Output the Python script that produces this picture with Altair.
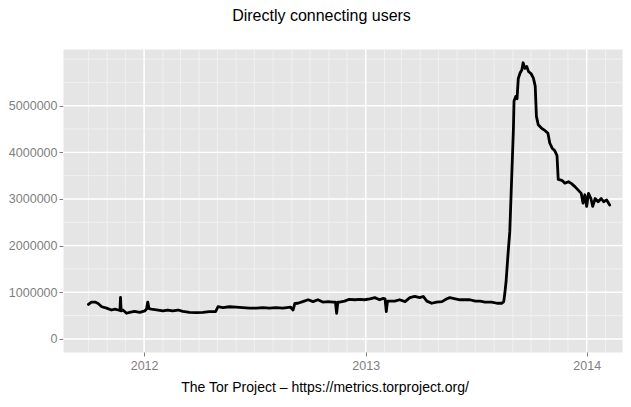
import altair as alt
import pandas as pd

# ---- data ----
dates = [
    "2011-10-01", "2011-10-06", "2011-10-12", "2011-10-17", "2011-10-23", "2011-10-31",
    "2011-11-08", "2011-11-14", "2011-11-19", "2011-11-22", "2011-11-23", "2011-11-24",
    "2011-11-27", "2011-12-03", "2011-12-08", "2011-12-16", "2011-12-25",
    "2012-01-02", "2012-01-05", "2012-01-07", "2012-01-09", "2012-01-13", "2012-01-24",
    "2012-02-01", "2012-02-09", "2012-02-17", "2012-02-26", "2012-03-05", "2012-03-16",
    "2012-03-27", "2012-04-07", "2012-04-18", "2012-04-28", "2012-05-02", "2012-05-10",
    "2012-05-21", "2012-06-01", "2012-06-12", "2012-06-23", "2012-07-04", "2012-07-15",
    "2012-07-26", "2012-08-06", "2012-08-17", "2012-08-30", "2012-09-03", "2012-09-06",
    "2012-09-11", "2012-09-19", "2012-09-28", "2012-10-06", "2012-10-14", "2012-10-22",
    "2012-10-31", "2012-11-08", "2012-11-12", "2012-11-14", "2012-11-16", "2012-11-19",
    "2012-11-27", "2012-12-05", "2012-12-14", "2012-12-22", "2012-12-30",
    "2013-01-08", "2013-01-16", "2013-01-24", "2013-01-30", "2013-02-02", "2013-02-04",
    "2013-02-06", "2013-02-10", "2013-02-18", "2013-02-26", "2013-03-07", "2013-03-15",
    "2013-03-23", "2013-03-31", "2013-04-06", "2013-04-12", "2013-04-20", "2013-04-28",
    "2013-05-07", "2013-05-15", "2013-05-20", "2013-05-29", "2013-06-06", "2013-06-14",
    "2013-06-22", "2013-07-01", "2013-07-09", "2013-07-17", "2013-07-28", "2013-08-06",
    "2013-08-14", "2013-08-17", "2013-08-19", "2013-08-21", "2013-08-24", "2013-08-27",
    "2013-08-30", "2013-09-02", "2013-09-03", "2013-09-06", "2013-09-08", "2013-09-10",
    "2013-09-13", "2013-09-16", "2013-09-18", "2013-09-21", "2013-09-24", "2013-09-27",
    "2013-10-01", "2013-10-05", "2013-10-08", "2013-10-10", "2013-10-13", "2013-10-19",
    "2013-10-24", "2013-10-29", "2013-11-01", "2013-11-05", "2013-11-09", "2013-11-13",
    "2013-11-15", "2013-11-21", "2013-11-26", "2013-12-02", "2013-12-07", "2013-12-13",
    "2013-12-18", "2013-12-23", "2013-12-26", "2013-12-29", "2014-01-01", "2014-01-04",
    "2014-01-08", "2014-01-11", "2014-01-15", "2014-01-20", "2014-01-25", "2014-01-29",
    "2014-02-03", "2014-02-08",
]
users = [
    740000, 790000, 790000, 760000, 690000, 660000,
    620000, 640000, 620000, 610000, 890000, 600000,
    620000, 550000, 570000, 590000, 570000,
    600000, 640000, 790000, 650000, 640000, 620000,
    600000, 620000, 600000, 620000, 590000, 570000,
    565000, 570000, 585000, 585000, 690000, 670000,
    690000, 680000, 670000, 660000, 660000, 670000,
    660000, 670000, 660000, 680000, 620000, 760000,
    765000, 800000, 840000, 800000, 840000, 790000,
    800000, 790000, 790000, 550000, 790000, 790000,
    810000, 850000, 840000, 850000, 840000,
    860000, 885000, 840000, 870000, 860000, 585000,
    810000, 810000, 810000, 840000, 800000, 885000,
    910000, 885000, 910000, 810000, 765000, 790000,
    800000, 860000, 885000, 860000, 840000, 840000,
    840000, 810000, 810000, 790000, 790000, 765000,
    765000, 800000, 1000000, 1250000, 1800000, 2300000,
    3400000, 4500000, 5100000, 5200000, 5150000, 5580000,
    5700000, 5770000, 5920000, 5800000, 5840000, 5730000,
    5690000, 5590000, 5420000, 4770000, 4590000, 4510000,
    4470000, 4410000, 4200000, 4090000, 4040000, 3930000,
    3420000, 3400000, 3340000, 3370000, 3330000, 3260000,
    3190000, 3120000, 2910000, 3090000, 2840000, 3120000,
    3010000, 2840000, 3010000, 2940000, 3010000, 2940000,
    2980000, 2870000,
]
y_ticks = [0, 1000000, 2000000, 3000000, 4000000, 5000000]
y_minor = [500000, 1500000, 2500000, 3500000, 4500000, 5500000, 6000000]
year_ticks = ["2012-01-01", "2013-01-01", "2014-01-01"]
month_minor = list(pd.date_range("2011-10-01", "2014-03-01", freq="MS").strftime("%Y-%m-%d"))

title_text = "Directly connecting users"
caption_text = "The Tor Project \u2013 https://metrics.torproject.org/"

FONT = "Liberation Sans"
GREY = "#7f7f7f"

df = pd.DataFrame({"date": dates, "users": users})

xscale = alt.Scale(
    type="utc",
    nice=False,
    domain=[alt.DateTime(year=2011, month=8, date=20, utc=True),
            alt.DateTime(year=2014, month=3, date=2, utc=True)],
)
yscale = alt.Scale(domain=[-280000, 6215000], nice=False, zero=False)

x_axis = alt.Axis(
    values=[alt.DateTime(year=2012, month=1, date=1, utc=True),
            alt.DateTime(year=2013, month=1, date=1, utc=True),
            alt.DateTime(year=2014, month=1, date=1, utc=True)],
    format="%Y",
    title=caption_text,
    grid=False,
    domain=False,
    ticks=True,
    tickColor=GREY,
    tickSize=4,
    tickWidth=1,
    labelColor=GREY,
    labelFont=FONT,
    labelFontSize=12.5,
    labelPadding=3,
    labelOverlap=False,
    labelFlush=False,
    titleFont=FONT,
    titleFontSize=14,
    titleFontWeight="normal",
    titleColor="black",
    titleX=261.5,
    titleY=39,
    titleAlign="center",
    titleBaseline="alphabetic",
)
y_axis = alt.Axis(
    values=y_ticks,
    format="d",
    title=None,
    grid=False,
    domain=False,
    tickColor=GREY,
    tickSize=4,
    tickWidth=1,
    labelColor=GREY,
    labelFont=FONT,
    labelFontSize=12.5,
    labelPadding=2,
    labelOverlap=False,
    labelFlush=False,
)

minor_x = alt.Chart(pd.DataFrame({"date": month_minor})).mark_rule(
    color="#F2F2F2", strokeWidth=0.9
).encode(x=alt.X("date:T", scale=xscale, axis=x_axis))

minor_y = alt.Chart(pd.DataFrame({"users": y_minor})).mark_rule(
    color="#F2F2F2", strokeWidth=0.9
).encode(y=alt.Y("users:Q", scale=yscale, axis=y_axis))

major_x = alt.Chart(pd.DataFrame({"date": year_ticks})).mark_rule(
    color="white", strokeWidth=1.4
).encode(x=alt.X("date:T", scale=xscale, axis=x_axis))

major_y = alt.Chart(pd.DataFrame({"users": y_ticks})).mark_rule(
    color="white", strokeWidth=1.4
).encode(y=alt.Y("users:Q", scale=yscale, axis=y_axis))

line = alt.Chart(df).mark_line(
    color="black", strokeWidth=2.8, strokeJoin="round", strokeCap="round"
).encode(
    x=alt.X("date:T", scale=xscale, axis=x_axis),
    y=alt.Y("users:Q", scale=yscale, axis=y_axis),
)

# chart title, drawn as a text mark just above the panel
title = alt.Chart(pd.DataFrame({"t": [title_text]})).mark_text(
    font=FONT, fontSize=16, color="black", align="center", baseline="alphabetic"
).encode(text="t:N", x=alt.value(258.5), y=alt.value(-28))

chart = alt.layer(minor_x, minor_y, major_x, major_y, line, title).properties(
    width=560,
    height=303,
    autosize=alt.AutoSizeParams(type="none"),
    padding={"left": 55, "top": 41, "right": 0, "bottom": 45},
).configure_view(fill="#E5E5E5", stroke="transparent")

chart.save("out.html", embed_options={"renderer": "svg", "actions": False})
